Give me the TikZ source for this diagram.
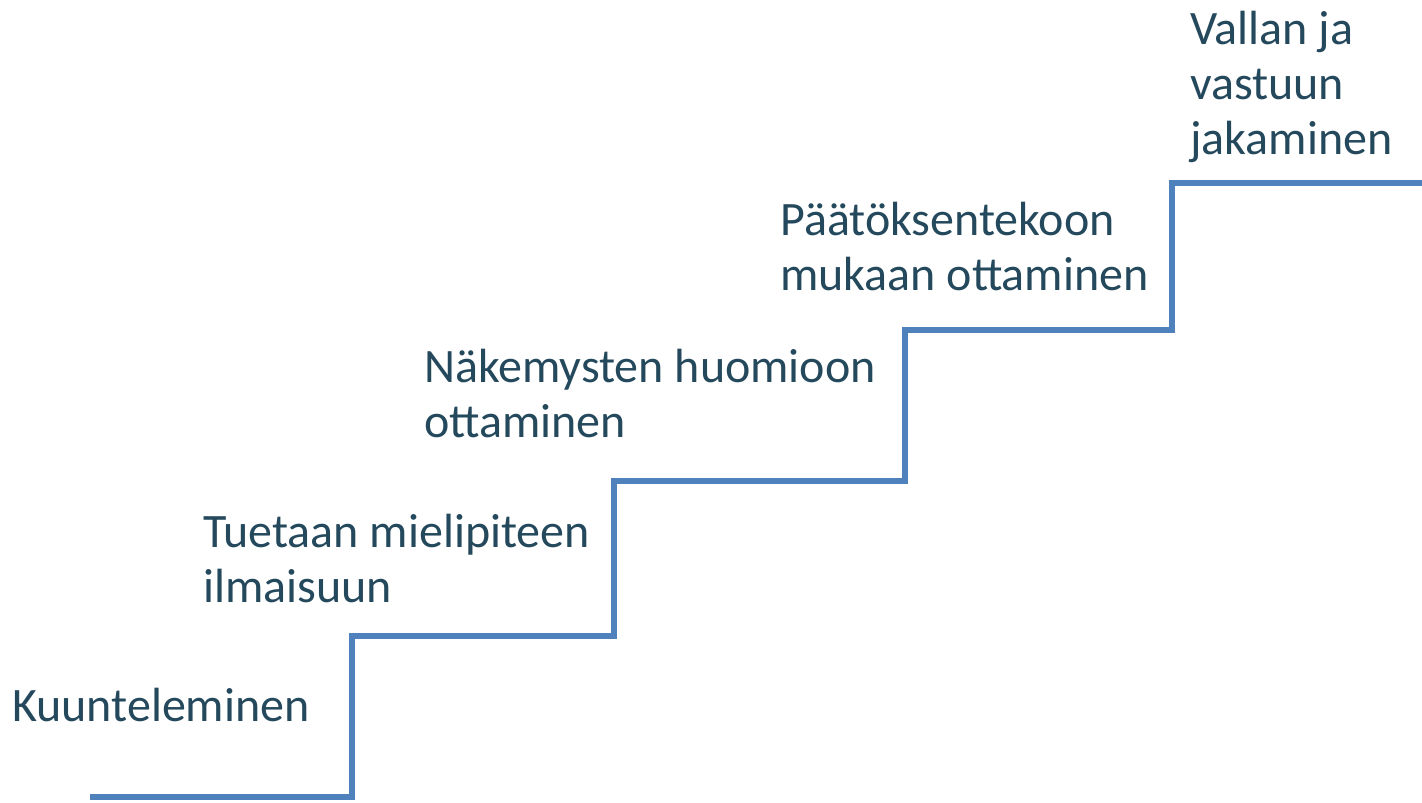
\documentclass[tikz,border=0pt]{standalone}
\usepackage{fontspec}
\setmainfont{Carlito}
\definecolor{txt}{HTML}{25495C}
\definecolor{stair}{HTML}{4F81BD}
\begin{document}
\begin{tikzpicture}[x=1pt,y=-1pt,
  lbl/.style={anchor=west,align=left,inner sep=0pt,text=txt,font=\fontsize{48}{55}\selectfont},
  stairline/.style={draw=stair,line width=5.5pt,line join=miter},
  shadowline/.style={draw=black!35,line width=5.5pt,opacity=0.45}]
\useasboundingbox (0,0) rectangle (1422,803);
\coordinate (s0) at (90,797);
\coordinate (s1) at (352,797);
\coordinate (s2) at (352,636);
\coordinate (s3) at (614,636);
\coordinate (s4) at (614,481);
\coordinate (s5) at (905,481);
\coordinate (s6) at (905,330);
\coordinate (s7) at (1172,330);
\coordinate (s8) at (1172,183);
\coordinate (s9) at (1422,183);
\draw[shadowline,shift={(1.5,1.5)}] (s0) -- (s1) -- (s2) -- (s3) -- (s4) -- (s5) -- (s6) -- (s7) -- (s8) -- (s9);
\draw[stairline] (s0) -- (s1) -- (s2) -- (s3) -- (s4) -- (s5) -- (s6) -- (s7) -- (s8) -- (s9);
\node[lbl] (l1) at (12,705) {Kuunteleminen};
\node[lbl] (l2) at (203,559) {Tuetaan mielipiteen\\ilmaisuun};
\node[lbl] (l3) at (424,394) {Näkemysten huomioon\\ottaminen};
\node[lbl] (l4) at (780,247) {Päätöksentekoon\\mukaan ottaminen};
\node[lbl] (l5) at (1190,87) {Vallan ja\\vastuun\\jakaminen};
\end{tikzpicture}
\end{document}
